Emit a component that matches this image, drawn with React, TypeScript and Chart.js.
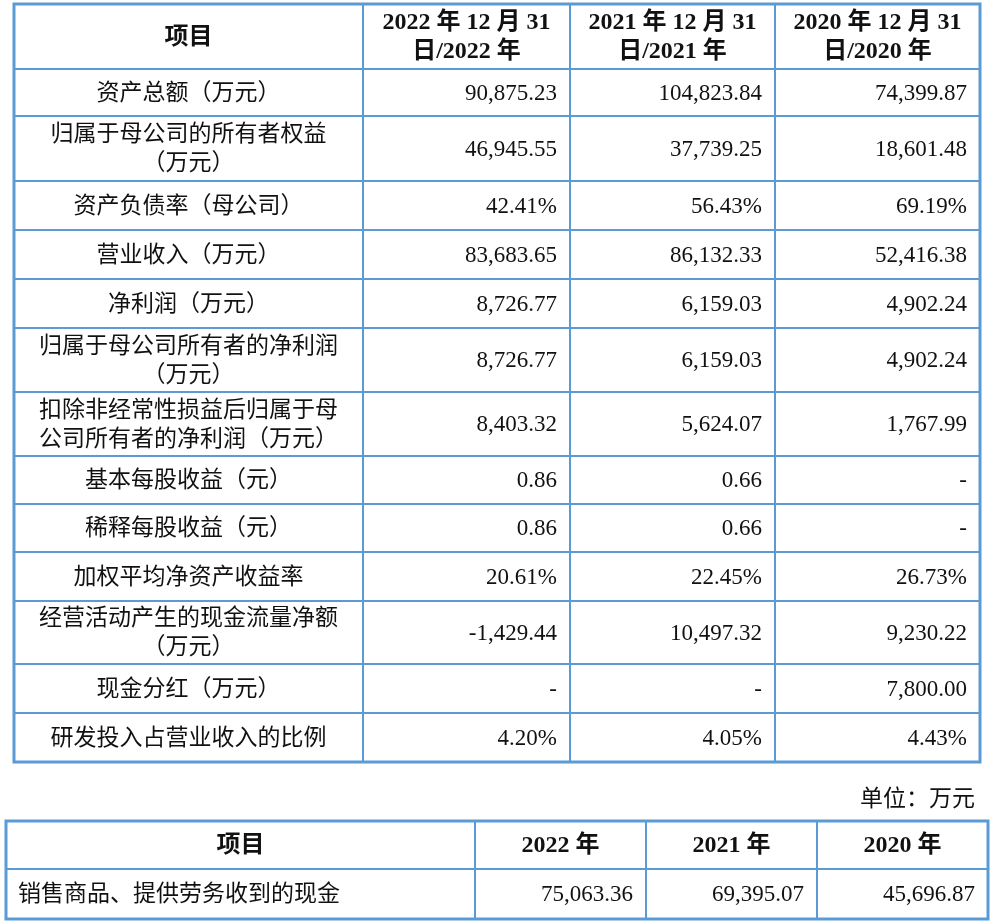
import React, { useEffect, useRef } from "react";
import { Chart, registerables } from "chart.js";

Chart.register(...registerables);

// ---------- data ----------
const headers = ["项目", "2022 年 12 月 31\n日/2022 年", "2021 年 12 月 31\n日/2021 年", "2020 年 12 月 31\n日/2020 年"];
const items = [
  "资产总额（万元）",
  "归属于母公司的所有者权益\n（万元）",
  "资产负债率（母公司）",
  "营业收入（万元）",
  "净利润（万元）",
  "归属于母公司所有者的净利润\n（万元）",
  "扣除非经常性损益后归属于母\n公司所有者的净利润（万元）",
  "基本每股收益（元）",
  "稀释每股收益（元）",
  "加权平均净资产收益率",
  "经营活动产生的现金流量净额\n（万元）",
  "现金分红（万元）",
  "研发投入占营业收入的比例",
];
const values2022 = ["90,875.23", "46,945.55", "42.41%", "83,683.65", "8,726.77", "8,726.77", "8,403.32", "0.86", "0.86", "20.61%", "-1,429.44", "-", "4.20%"];
const values2021 = ["104,823.84", "37,739.25", "56.43%", "86,132.33", "6,159.03", "6,159.03", "5,624.07", "0.66", "0.66", "22.45%", "10,497.32", "-", "4.05%"];
const values2020 = ["74,399.87", "18,601.48", "69.19%", "52,416.38", "4,902.24", "4,902.24", "1,767.99", "-", "-", "26.73%", "9,230.22", "7,800.00", "4.43%"];

const unitLabel = "单位：万元";
const headers2 = ["项目", "2022 年", "2021 年", "2020 年"];
const cashItems = ["销售商品、提供劳务收到的现金"];
const cash2022 = ["75,063.36"];
const cash2021 = ["69,395.07"];
const cash2020 = ["45,696.87"];

// ---------- layout (grid edges, in scale units) ----------
const W = 992;
const H = 924;
const t1Cols = [14, 363, 570, 775, 980];
const t1Rows = [4, 69, 116, 181, 230, 279, 328, 392, 456, 504, 552, 601, 664, 713, 762];
const t2Cols = [6, 475, 646, 817, 988];
const t2Rows = [821, 869, 919];
const unitPos = { x: 975, y: 800 };

const BORDER = "#5B9BD5";
const TEXT = "#111111";
const FAMILY = "'Liberation Serif', 'Noto Sans CJK SC', serif";
const SIZE = 23;
const HEAD_SIZE = 24;
const LINE_GAP = 29;
const PAD = 13;

type Cell = { text: string; align: "left" | "center" | "right"; bold: boolean };

function drawTable(chart: any, cols: number[], rows: number[], cells: Cell[][]) {
  const ctx = chart.ctx as CanvasRenderingContext2D;
  const xs = chart.scales.x;
  const ys = chart.scales.y;
  const px = (v: number) => xs.getPixelForValue(v);
  const py = (v: number) => ys.getPixelForValue(v);

  cells.forEach((row, r) => {
    const top = py(rows[r]);
    const bottom = py(rows[r + 1]);
    const cy = (top + bottom) / 2;
    row.forEach((cell, c) => {
      const left = px(cols[c]);
      const right = px(cols[c + 1]);
      ctx.font = cell.bold ? `bold ${HEAD_SIZE}px ${FAMILY}` : `${SIZE}px ${FAMILY}`;
      ctx.fillStyle = TEXT;
      ctx.textBaseline = "middle";
      ctx.textAlign = cell.align;
      const x = cell.align === "left" ? left + PAD - 1 : cell.align === "right" ? right - PAD : (left + right) / 2;
      const lines = cell.text.split("\n");
      lines.forEach((ln, i) => {
        const y = cy + (i - (lines.length - 1) / 2) * LINE_GAP + 1;
        ctx.fillText(ln, x, y);
      });
    });
  });

  ctx.strokeStyle = BORDER;
  ctx.lineCap = "square";
  const x0 = px(cols[0]);
  const x1 = px(cols[cols.length - 1]);
  const y0 = py(rows[0]);
  const y1 = py(rows[rows.length - 1]);
  ctx.lineWidth = 2;
  rows.slice(1, -1).forEach((rv) => {
    ctx.beginPath();
    ctx.moveTo(x0, py(rv));
    ctx.lineTo(x1, py(rv));
    ctx.stroke();
  });
  cols.slice(1, -1).forEach((cv) => {
    ctx.beginPath();
    ctx.moveTo(px(cv), y0);
    ctx.lineTo(px(cv), y1);
    ctx.stroke();
  });
  ctx.lineWidth = 3;
  ctx.strokeRect(x0, y0, x1 - x0, y1 - y0);
}

const tablePlugin = {
  id: "tablePlugin",
  beforeDraw(chart: any) {
    const ctx = chart.ctx as CanvasRenderingContext2D;
    ctx.save();
    ctx.fillStyle = "#ffffff";
    ctx.fillRect(0, 0, chart.width, chart.height);
    ctx.restore();
  },
  afterDraw(chart: any) {
    const ctx = chart.ctx as CanvasRenderingContext2D;
    ctx.save();
    const cells1: Cell[][] = [
      headers.map((h) => ({ text: h, align: "center" as const, bold: true })),
      ...items.map((it, i) => [
        { text: it, align: "center" as const, bold: false },
        { text: values2022[i], align: "right" as const, bold: false },
        { text: values2021[i], align: "right" as const, bold: false },
        { text: values2020[i], align: "right" as const, bold: false },
      ]),
    ];
    drawTable(chart, t1Cols, t1Rows, cells1);

    const cells2: Cell[][] = [
      headers2.map((h) => ({ text: h, align: "center" as const, bold: true })),
      ...cashItems.map((it, i) => [
        { text: it, align: "left" as const, bold: false },
        { text: cash2022[i], align: "right" as const, bold: false },
        { text: cash2021[i], align: "right" as const, bold: false },
        { text: cash2020[i], align: "right" as const, bold: false },
      ]),
    ];
    drawTable(chart, t2Cols, t2Rows, cells2);

    ctx.font = `${SIZE}px ${FAMILY}`;
    ctx.fillStyle = TEXT;
    ctx.textAlign = "right";
    ctx.textBaseline = "middle";
    ctx.fillText(unitLabel, chart.scales.x.getPixelForValue(unitPos.x), chart.scales.y.getPixelForValue(unitPos.y));
    ctx.restore();
  },
};

export default function App() {
  const ref = useRef<HTMLCanvasElement | null>(null);
  useEffect(() => {
    if (!ref.current) return;
    const chart = new Chart(ref.current, {
      type: "scatter",
      data: { datasets: [] },
      options: {
        animation: false,
        responsive: false,
        maintainAspectRatio: false,
        layout: { padding: 0 },
        plugins: { legend: { display: false }, tooltip: { enabled: false } },
        scales: {
          x: { type: "linear", min: 0, max: W, display: false },
          y: { type: "linear", min: 0, max: H, reverse: true, display: false },
        },
      },
      plugins: [tablePlugin],
    });
    return () => chart.destroy();
  }, []);
  return (
    <div style={{ position: "absolute", left: 0, top: 0, width: W, height: H, background: "#fff" }}>
      <canvas ref={ref} width={W} height={H} style={{ display: "block", width: W, height: H }} />
    </div>
  );
}
